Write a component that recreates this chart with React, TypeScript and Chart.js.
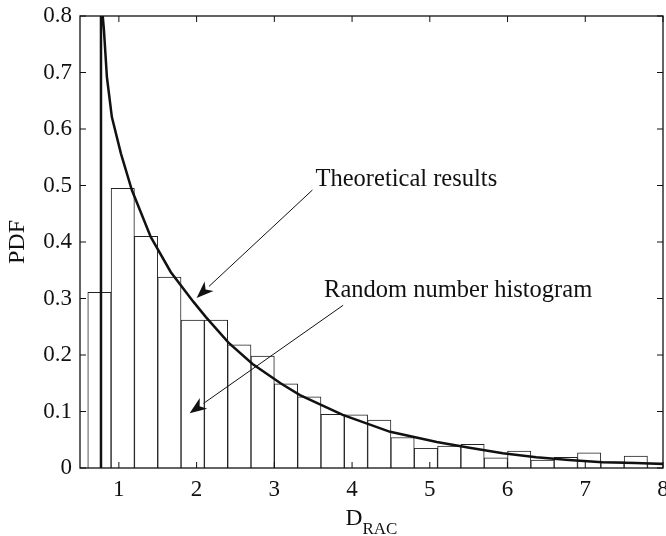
import React, { useEffect, useRef } from 'react';
import { Chart, registerables } from 'chart.js';

Chart.register(...registerables);

// Histogram bins (centers, width 0.3) and heights
const binCenters = [0.75, 1.05, 1.35, 1.65, 1.95, 2.25, 2.55, 2.85, 3.15, 3.45, 3.75, 4.05, 4.35, 4.65, 4.95, 5.25, 5.55, 5.85, 6.15, 6.45, 6.75, 7.05, 7.35, 7.65, 7.95];
const binHeights = [0.311, 0.495, 0.41, 0.338, 0.262, 0.262, 0.218, 0.198, 0.149, 0.126, 0.095, 0.094, 0.085, 0.054, 0.035, 0.039, 0.042, 0.018, 0.030, 0.014, 0.019, 0.027, 0.011, 0.021, 0.009];

// Theoretical PDF curve
const curveX = [0.77, 0.77, 0.78, 0.808, 0.846, 0.91, 1.026, 1.167, 1.41, 1.667, 1.96, 2.12, 2.41, 2.72, 3.08, 3.33, 3.88, 4.49, 5.09, 5.51, 5.94, 6.37, 6.79, 7.22, 7.65, 8.0];
const curveY = [0, 0.9, 0.82, 0.775, 0.692, 0.621, 0.557, 0.492, 0.409, 0.347, 0.294, 0.267, 0.222, 0.184, 0.150, 0.129, 0.094, 0.064, 0.046, 0.036, 0.026, 0.019, 0.014, 0.010, 0.009, 0.007];

// Axis ticks
const xTicks = [1, 2, 3, 4, 5, 6, 7, 8];
const xTickLabels = ['1', '2', '3', '4', '5', '6', '7', '8'];
const yTicks = [0, 0.1, 0.2, 0.3, 0.4, 0.5, 0.6, 0.7, 0.8];
const yTickLabels = ['0', '0.1', '0.2', '0.3', '0.4', '0.5', '0.6', '0.7', '0.8'];

// Annotations (data coordinates)
const annotationTexts = ['Theoretical results', 'Random number histogram'];
const annotationTextX = [3.53, 3.64];
const annotationTextY = [0.499, 0.303];
const arrowFromX = [3.49, 3.885];
const arrowFromY = [0.492, 0.288];
const arrowToX = [2.0, 1.91];
const arrowToY = [0.301, 0.097];

const FONT = '"Liberation Serif", "Times New Roman", serif';

const decorPlugin = {
  id: 'decor',
  afterDatasetsDraw(chart: any) {
    const { ctx, chartArea: a, scales } = chart;
    const xs = scales.x;
    const ys = scales.y;
    ctx.save();
    // frame
    ctx.strokeStyle = '#111';
    ctx.lineWidth = 1.3;
    ctx.strokeRect(a.left, a.top, a.right - a.left, a.bottom - a.top);
    // inward ticks
    ctx.lineWidth = 1;
    const tl = 6;
    ctx.beginPath();
    yTicks.forEach((v) => {
      const y = ys.getPixelForValue(v);
      ctx.moveTo(a.left, y);
      ctx.lineTo(a.left + tl, y);
      ctx.moveTo(a.right, y);
      ctx.lineTo(a.right - tl, y);
    });
    xTicks.forEach((v) => {
      const x = xs.getPixelForValue(v);
      ctx.moveTo(x, a.bottom);
      ctx.lineTo(x, a.bottom - tl);
      ctx.moveTo(x, a.top);
      ctx.lineTo(x, a.top + tl);
    });
    ctx.stroke();

    // annotations
    ctx.fillStyle = '#111';
    ctx.font = `24.5px ${FONT}`;
    ctx.textAlign = 'left';
    ctx.textBaseline = 'alphabetic';
    annotationTexts.forEach((t, i) => {
      ctx.fillText(t, xs.getPixelForValue(annotationTextX[i]), ys.getPixelForValue(annotationTextY[i]));
    });
    annotationTexts.forEach((_, i) => {
      const x0 = xs.getPixelForValue(arrowFromX[i]);
      const y0 = ys.getPixelForValue(arrowFromY[i]);
      const x1 = xs.getPixelForValue(arrowToX[i]);
      const y1 = ys.getPixelForValue(arrowToY[i]);
      const ang = Math.atan2(y1 - y0, x1 - x0);
      const len = 17;
      const hw = 6.5;
      const bx = x1 - len * Math.cos(ang);
      const by = y1 - len * Math.sin(ang);
      ctx.strokeStyle = '#111';
      ctx.lineWidth = 1;
      ctx.beginPath();
      ctx.moveTo(x0, y0);
      ctx.lineTo(bx, by);
      ctx.stroke();
      const px = -Math.sin(ang);
      const py = Math.cos(ang);
      const nx = x1 - len * 0.72 * Math.cos(ang);
      const ny = y1 - len * 0.72 * Math.sin(ang);
      ctx.beginPath();
      ctx.moveTo(x1, y1);
      ctx.lineTo(bx + px * hw, by + py * hw);
      ctx.lineTo(nx, ny);
      ctx.lineTo(bx - px * hw, by - py * hw);
      ctx.closePath();
      ctx.fill();
    });

    // axis titles
    ctx.font = `24px ${FONT}`;
    ctx.textAlign = 'center';
    ctx.textBaseline = 'middle';
    ctx.save();
    ctx.translate(18, (a.top + a.bottom) / 2);
    ctx.rotate(-Math.PI / 2);
    ctx.fillText('PDF', 0, 0);
    ctx.restore();

    ctx.textBaseline = 'alphabetic';
    ctx.textAlign = 'left';
    const cx = (a.left + a.right) / 2;
    ctx.font = `23.5px ${FONT}`;
    const wD = ctx.measureText('D').width;
    ctx.font = `17px ${FONT}`;
    const wR = ctx.measureText('RAC').width;
    const sx = cx - (wD + wR) / 2;
    ctx.font = `23.5px ${FONT}`;
    ctx.fillText('D', sx, 525);
    ctx.font = `17px ${FONT}`;
    ctx.fillText('RAC', sx + wD, 534);
    ctx.restore();
  },
};

export default function App() {
  const ref = useRef<HTMLCanvasElement | null>(null);
  useEffect(() => {
    if (!ref.current) return;
    const chart = new Chart(ref.current, {
      type: 'bar',
      data: {
        datasets: [
          {
            type: 'line',
            data: curveX.map((x, i) => ({ x, y: curveY[i] })),
            borderColor: '#111',
            borderWidth: 2.5,
            pointRadius: 0,
            tension: 0,
            fill: false,
            order: 0,
          } as any,
          {
            type: 'bar',
            data: binCenters.map((x, i) => ({ x, y: binHeights[i] })),
            backgroundColor: '#ffffff',
            borderColor: '#222',
            borderWidth: 1,
            barPercentage: 1,
            categoryPercentage: 1,
            order: 1,
          } as any,
        ],
      },
      options: {
        animation: false,
        responsive: false,
        maintainAspectRatio: false,
        layout: { padding: { top: 16, right: 3, left: 0, bottom: 0 } },
        plugins: { legend: { display: false }, tooltip: { enabled: false } },
        scales: {
          x: {
            type: 'linear',
            min: 0.5,
            max: 8,
            offset: false,
            grid: { display: false, drawTicks: false },
            border: { display: false },
            afterBuildTicks: (s: any) => {
              s.ticks = xTicks.map((v) => ({ value: v }));
            },
            afterFit: (s: any) => {
              s.height = 68;
              s.paddingLeft = 0;
              s.paddingRight = 0;
            },
            ticks: {
              padding: 8,
              color: '#111',
              font: { family: FONT, size: 23 },
              maxRotation: 0,
              autoSkip: false,
              callback: (v: any) => {
                const i = xTicks.indexOf(Number(v));
                return i >= 0 ? xTickLabels[i] : '';
              },
            },
          },
          y: {
            type: 'linear',
            min: 0,
            max: 0.8,
            grid: { display: false, drawTicks: false },
            border: { display: false },
            afterBuildTicks: (s: any) => {
              s.ticks = yTicks.map((v) => ({ value: v }));
            },
            afterFit: (s: any) => {
              s.width = 80;
              s.paddingTop = 0;
              s.paddingBottom = 0;
            },
            ticks: {
              padding: 8,
              color: '#111',
              font: { family: FONT, size: 23 },
              autoSkip: false,
              callback: (v: any) => {
                const i = yTicks.findIndex((t) => Math.abs(t - Number(v)) < 1e-9);
                return i >= 0 ? yTickLabels[i] : '';
              },
            },
          },
        },
      },
      plugins: [decorPlugin],
    });
    return () => chart.destroy();
  }, []);
  return (
    <div style={{ position: 'absolute', left: 0, top: 0, width: 666, height: 536, background: '#fff' }}>
      <canvas ref={ref} width={666} height={536} style={{ width: 666, height: 536, display: 'block' }} />
    </div>
  );
}
